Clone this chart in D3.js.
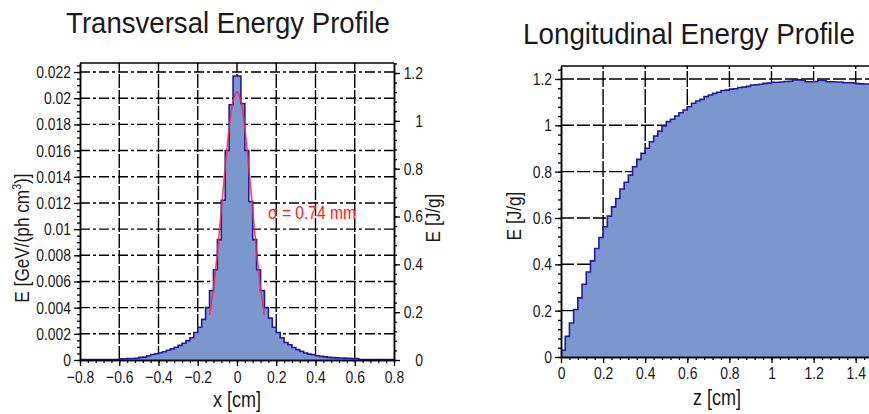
<!DOCTYPE html>
<html>
<head>
<meta charset="utf-8">
<script src="https://cdn.jsdelivr.net/npm/d3@7"></script>
<style>
  html, body { margin: 0; padding: 0; background: #fff; }
  svg { display: block; }
  text { font-family: "Liberation Sans", Arial, sans-serif; fill: #1a1a1a; }
</style>
</head>
<body>
<div id="chart"></div>
<script>
// ---- data ----
// transversal profile: 80 bins of 0.02 cm from -0.8 to 0.8, GeV/(ph cm3)
const transStart = -0.8;
const transBin = 0.02;
const transValues = [
  0.00003, 0.00003, 0.00003, 0.00003, 0.00003, 0.00003, 0.00003, 0.00003, 0.00003, 0.00003,
  0.00010, 0.00010, 0.00011, 0.00012, 0.00013, 0.00020, 0.00022, 0.00033, 0.00042, 0.00048,
  0.00055, 0.00063, 0.00075, 0.00085, 0.00097, 0.00112, 0.00128, 0.00148, 0.00170, 0.00210,
  0.00250, 0.00310, 0.00400, 0.00530, 0.00690, 0.00920, 0.01220, 0.01600, 0.01950, 0.02170,
  0.02170, 0.01960, 0.01600, 0.01210, 0.00920, 0.00690, 0.00530, 0.00400, 0.00320, 0.00250,
  0.00210, 0.00170, 0.00134, 0.00117, 0.00096, 0.00079, 0.00066, 0.00053, 0.00045, 0.00040,
  0.00033, 0.00028, 0.00024, 0.00020, 0.00018, 0.00016, 0.00015, 0.00014, 0.00013, 0.00012,
  0.00011, 0.00003, 0.00003, 0.00003, 0.00003, 0.00003, 0.00003, 0.00003, 0.00003, 0.00003
];
// gaussian fit curve
const fitX = [-0.14, -0.12, -0.10, -0.08, -0.06, -0.04, -0.02, 0, 0.02, 0.04, 0.06, 0.08, 0.10, 0.12, 0.14];
const fitY = [0.00342, 0.0055, 0.00823, 0.01143, 0.01476, 0.01771, 0.01977, 0.0205,
              0.01977, 0.01771, 0.01476, 0.01143, 0.00823, 0.0055, 0.00342];
const fitLabel = 'σ = 0.74 mm';

// longitudinal profile: bins of 0.02 cm from 0, J/g
const longStart = 0;
const longBin = 0.02;
const longValues = [
  0.029, 0.089, 0.147, 0.205, 0.255, 0.314, 0.367, 0.415, 0.468, 0.516,
  0.562, 0.608, 0.648, 0.684, 0.725, 0.754, 0.785, 0.821, 0.853, 0.879,
  0.901, 0.929, 0.954, 0.975, 0.997, 1.016, 1.026, 1.040, 1.054, 1.066,
  1.080, 1.095, 1.105, 1.112, 1.124, 1.131, 1.138, 1.143, 1.150, 1.152,
  1.156, 1.158, 1.163, 1.165, 1.168, 1.174, 1.175, 1.177, 1.181, 1.182,
  1.186, 1.186, 1.187, 1.189, 1.190, 1.196, 1.196, 1.195, 1.188, 1.188,
  1.189, 1.195, 1.194, 1.188, 1.188, 1.187, 1.187, 1.184, 1.184, 1.183,
  1.180, 1.179, 1.178, 1.177, 1.176
];

// tick values
const transXTicks = [-0.8, -0.6, -0.4, -0.2, 0, 0.2, 0.4, 0.6, 0.8];
const transYTicks = [0, 0.002, 0.004, 0.006, 0.008, 0.01, 0.012, 0.014, 0.016, 0.018, 0.02, 0.022];
const transY2Ticks = [0, 0.2, 0.4, 0.6, 0.8, 1, 1.2];
const longXTicks = [0, 0.2, 0.4, 0.6, 0.8, 1, 1.2, 1.4];
const longYTicks = [0, 0.2, 0.4, 0.6, 0.8, 1, 1.2];

// ---- drawing ----
const W = 869, H = 414;
const FILL = '#7b97cd';
const EDGE = '#1c1ca6';
const SQ = 0.82; // horizontal squeeze, the original uses a narrow font
const fmt = d3.format('');

const svg = d3.select('#chart').append('svg')
  .attr('width', W).attr('height', H);
svg.append('rect').attr('width', W).attr('height', H).attr('fill', '#fff');

// bins -> points for a step curve (one extra point closes the last bin)
function stepPoints(start, width, values) {
  const pts = values.map((v, i) => ({ x: start + i * width, v: v }));
  pts.push({ x: start + values.length * width, v: values[values.length - 1] });
  return pts;
}

function styleAxis(g) {
  g.select('.domain').attr('stroke', '#000').attr('stroke-width', 1.5);
  g.selectAll('.tick line').attr('stroke', '#000').attr('stroke-width', 1.3);
  g.selectAll('.tick text')
    .style('font-size', '17px').attr('fill', '#222')
    .attr('x', function () { return (+d3.select(this).attr('x') || 0) / SQ; })
    .attr('transform', `scale(${SQ},1)`);
}

// title squeezed to a given width
function title(txt, cx, y, width) {
  const t = svg.append('text')
    .attr('text-anchor', 'middle')
    .style('font-size', '30px').text(txt);
  const k = width / t.node().getComputedTextLength();
  t.attr('transform', `translate(${cx},${y}) scale(${k},1)`);
}

// ===== Transversal =====
const xT = d3.scaleLinear().domain([-0.8, 0.8]).range([80, 394]);
const yT = d3.scaleLinear().domain([0, 0.02269]).range([360, 63]);
const yT2 = d3.scaleLinear().domain([0, 1.2418]).range([360, 63]);

// grid
svg.append('g').selectAll('line')
  .data(transYTicks.filter(d => d > 0))
  .enter().append('line')
  .attr('x1', xT(-0.8)).attr('x2', xT(0.8))
  .attr('y1', d => yT(d)).attr('y2', d => yT(d))
  .attr('stroke', '#000').attr('stroke-width', 1.4)
  .attr('stroke-dasharray', '10,3,3,3');
svg.append('g').selectAll('line')
  .data(transXTicks.filter(d => Math.abs(d) < 0.8))
  .enter().append('line')
  .attr('x1', d => xT(d)).attr('x2', d => xT(d))
  .attr('y1', yT(0)).attr('y2', 63)
  .attr('stroke', '#000').attr('stroke-width', 1.4)
  .attr('stroke-dasharray', '14,2');

// histogram
const transPts = stepPoints(transStart, transBin, transValues);
svg.append('path')
  .datum(transPts)
  .attr('d', d3.area().curve(d3.curveStepAfter)
    .x(d => xT(d.x)).y0(yT(0)).y1(d => yT(d.v)))
  .attr('fill', FILL);
svg.append('path')
  .datum(transPts)
  .attr('d', d3.line().curve(d3.curveStepAfter)
    .x(d => xT(d.x)).y(d => yT(d.v)))
  .attr('fill', 'none').attr('stroke', EDGE).attr('stroke-width', 1.6);

// fit
svg.append('path')
  .datum(fitX.map((x, i) => [x, fitY[i]]))
  .attr('d', d3.line().curve(d3.curveCatmullRom)
    .x(d => xT(d[0])).y(d => yT(d[1])))
  .attr('fill', 'none').attr('stroke', '#ff2440').attr('stroke-width', 1.6)
  .attr('opacity', 0.85);

svg.append('text')
  .attr('x', 268).attr('y', 219)
  .attr('textLength', 88).attr('lengthAdjust', 'spacingAndGlyphs')
  .style('font-size', '18px').style('fill', '#ff1a1a')
  .text(fitLabel);

// frame top
svg.append('line')
  .attr('x1', xT(-0.8)).attr('x2', xT(0.8)).attr('y1', 63).attr('y2', 63)
  .attr('stroke', '#000').attr('stroke-width', 1.5);

// axes
svg.append('g')
  .attr('transform', `translate(0,${yT(0)})`)
  .call(d3.axisBottom(xT).tickValues(d3.range(-0.8, 0.801, 0.04)).tickSize(3).tickFormat('').tickSizeOuter(0))
  .call(styleAxis);
svg.append('g')
  .attr('transform', `translate(0,${yT(0)})`)
  .call(d3.axisBottom(xT).tickValues(transXTicks).tickSize(6).tickPadding(5).tickFormat(fmt).tickSizeOuter(0))
  .call(styleAxis);

svg.append('g')
  .attr('transform', `translate(${xT(-0.8)},0)`)
  .call(d3.axisLeft(yT).tickValues(d3.range(0, 0.0226, 0.0005)).tickSize(3).tickFormat('').tickSizeOuter(0))
  .call(styleAxis);
svg.append('g')
  .attr('transform', `translate(${xT(-0.8)},0)`)
  .call(d3.axisLeft(yT).tickValues(transYTicks).tickSize(6).tickPadding(3)
    .tickFormat(d => +d.toFixed(3)).tickSizeOuter(0))
  .call(styleAxis);

svg.append('g')
  .attr('transform', `translate(${xT(0.8)},0)`)
  .call(d3.axisRight(yT2).tickValues(d3.range(0, 1.241, 0.04)).tickSize(3).tickFormat('').tickSizeOuter(0))
  .call(styleAxis);
const rightAx = svg.append('g')
  .attr('transform', `translate(${xT(0.8)},0)`)
  .call(d3.axisRight(yT2).tickValues(transY2Ticks).tickSize(6).tickFormat(fmt).tickSizeOuter(0))
  .call(styleAxis);
rightAx.selectAll('.tick text').attr('text-anchor', 'end').attr('x', 29 / SQ);

// titles and labels
title('Transversal Energy Profile', 228, 33, 324);

svg.append('text')
  .attr('x', 237 / SQ).attr('y', 407).attr('text-anchor', 'middle')
  .attr('transform', `scale(${SQ},1)`)
  .style('font-size', '22px').text('x [cm]');

const yLab = svg.append('text')
  .attr('transform', `translate(29,238) rotate(-90) scale(${SQ},1)`)
  .attr('text-anchor', 'middle')
  .style('font-size', '21px');
yLab.append('tspan').text('E [GeV/(ph cm');
yLab.append('tspan').attr('dy', -8).style('font-size', '13px').text('3');
yLab.append('tspan').attr('dy', 8).text(')]');

svg.append('text')
  .attr('transform', `translate(440,218) rotate(-90) scale(${SQ},1)`)
  .attr('text-anchor', 'middle')
  .style('font-size', '21px').text('E [J/g]');

// ===== Longitudinal =====
const xL = d3.scaleLinear().domain([0, 1.6]).range([561, 561 + 1.6 * 210.5]);
const yL = d3.scaleLinear().domain([0, 1.256]).range([357, 66]);

svg.append('g').selectAll('line')
  .data(longYTicks.filter(d => d > 0))
  .enter().append('line')
  .attr('x1', xL(0)).attr('x2', W)
  .attr('y1', d => yL(d)).attr('y2', d => yL(d))
  .attr('stroke', '#000').attr('stroke-width', 1.4)
  .attr('stroke-dasharray', '13,3');
svg.append('g').selectAll('line')
  .data(longXTicks.filter(d => d > 0))
  .enter().append('line')
  .attr('x1', d => xL(d)).attr('x2', d => xL(d))
  .attr('y1', yL(0)).attr('y2', 66)
  .attr('stroke', '#000').attr('stroke-width', 1.4)
  .attr('stroke-dasharray', '16,2');

const longPts = stepPoints(longStart, longBin, longValues);
svg.append('path')
  .datum(longPts)
  .attr('d', d3.area().curve(d3.curveStepAfter)
    .x(d => xL(d.x)).y0(yL(0)).y1(d => yL(d.v)))
  .attr('fill', FILL);
svg.append('path')
  .datum(longPts)
  .attr('d', d3.line().curve(d3.curveStepAfter)
    .x(d => xL(d.x)).y(d => yL(d.v)))
  .attr('fill', 'none').attr('stroke', EDGE).attr('stroke-width', 1.6);

svg.append('line')
  .attr('x1', xL(0)).attr('x2', W).attr('y1', 66).attr('y2', 66)
  .attr('stroke', '#000').attr('stroke-width', 1.5);

svg.append('g')
  .attr('transform', `translate(0,${yL(0)})`)
  .call(d3.axisBottom(xL).tickValues(d3.range(0, 1.6, 0.04)).tickSize(3).tickFormat('').tickSizeOuter(0))
  .call(styleAxis);
svg.append('g')
  .attr('transform', `translate(0,${yL(0)})`)
  .call(d3.axisBottom(xL).tickValues(longXTicks).tickSize(6).tickPadding(4).tickFormat(fmt).tickSizeOuter(0))
  .call(styleAxis);

svg.append('g')
  .attr('transform', `translate(${xL(0)},0)`)
  .call(d3.axisLeft(yL).tickValues(d3.range(0, 1.25, 0.04)).tickSize(3).tickFormat('').tickSizeOuter(0))
  .call(styleAxis);
svg.append('g')
  .attr('transform', `translate(${xL(0)},0)`)
  .call(d3.axisLeft(yL).tickValues(longYTicks).tickSize(6).tickPadding(3).tickFormat(fmt).tickSizeOuter(0))
  .call(styleAxis);

title('Longitudinal Energy Profile', 689, 44, 332);

svg.append('text')
  .attr('x', 717 / SQ).attr('y', 405).attr('text-anchor', 'middle')
  .attr('transform', `scale(${SQ},1)`)
  .style('font-size', '22px').text('z [cm]');

svg.append('text')
  .attr('transform', `translate(521,216) rotate(-90) scale(${SQ},1)`)
  .attr('text-anchor', 'middle')
  .style('font-size', '21px').text('E [J/g]');
</script>
</body>
</html>
